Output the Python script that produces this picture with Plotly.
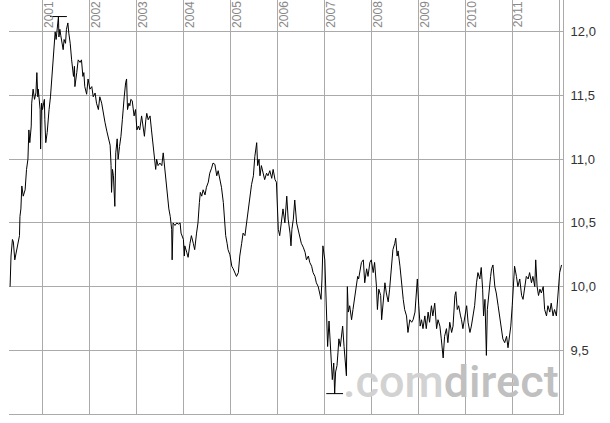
import numpy as np
import plotly.graph_objects as go

# price history (decimal year, closing value)
years = [
    2000.31, 2000.33, 2000.36, 2000.38, 2000.41, 2000.45, 2000.49, 2000.51, 2000.52, 2000.54,
    2000.56, 2000.59, 2000.63, 2000.64, 2000.66, 2000.69, 2000.70, 2000.71, 2000.73, 2000.76,
    2000.77, 2000.80, 2000.83, 2000.86, 2000.88, 2000.90, 2000.91, 2000.93, 2000.95, 2000.96,
    2000.98, 2001.00, 2001.04, 2001.05, 2001.07, 2001.10, 2001.12, 2001.14, 2001.17, 2001.20,
    2001.23, 2001.25, 2001.27, 2001.29, 2001.31, 2001.34, 2001.35, 2001.37, 2001.39, 2001.42,
    2001.44, 2001.46, 2001.49, 2001.51, 2001.54, 2001.56, 2001.59, 2001.62, 2001.66, 2001.68,
    2001.69, 2001.73, 2001.76, 2001.80, 2001.83, 2001.86, 2001.88, 2001.90, 2001.94, 2001.97,
    2002.01, 2002.05, 2002.08, 2002.12,
    2002.15, 2002.19, 2002.22, 2002.26, 2002.29, 2002.33, 2002.37, 2002.40, 2002.44, 2002.46,
    2002.47, 2002.49, 2002.51, 2002.54, 2002.56, 2002.59, 2002.61, 2002.64, 2002.67, 2002.70,
    2002.72, 2002.74, 2002.77, 2002.79, 2002.81, 2002.84, 2002.86, 2002.88, 2002.91, 2002.93,
    2002.95, 2002.98, 2003.01, 2003.04, 2003.07, 2003.11, 2003.14, 2003.17, 2003.20, 2003.22,
    2003.25, 2003.29, 2003.32, 2003.36, 2003.38, 2003.41, 2003.43, 2003.46, 2003.50, 2003.54,
    2003.57, 2003.59, 2003.62, 2003.64, 2003.66, 2003.69, 2003.72, 2003.75, 2003.76, 2003.78,
    2003.82, 2003.86, 2003.89, 2003.93, 2003.95, 2003.97, 2004.00, 2004.02,
    2004.03, 2004.07, 2004.10, 2004.14, 2004.17, 2004.21, 2004.24, 2004.28, 2004.31, 2004.34,
    2004.36, 2004.39, 2004.42, 2004.46, 2004.49, 2004.53, 2004.56, 2004.60, 2004.63, 2004.67,
    2004.71, 2004.74, 2004.78, 2004.81, 2004.85, 2004.87, 2004.90, 2004.93, 2004.95, 2004.99,
    2005.03, 2005.06, 2005.10, 2005.13, 2005.17, 2005.20, 2005.24, 2005.27, 2005.31, 2005.34,
    2005.38, 2005.41, 2005.45, 2005.49, 2005.52, 2005.56, 2005.58, 2005.61, 2005.63, 2005.66,
    2005.70, 2005.73, 2005.77, 2005.80, 2005.84, 2005.88, 2005.91, 2005.95, 2005.98, 2006.00,
    2006.02, 2006.05, 2006.09, 2006.12, 2006.16, 2006.20, 2006.23, 2006.27, 2006.29, 2006.31,
    2006.34, 2006.37, 2006.41, 2006.44, 2006.48, 2006.51, 2006.55, 2006.59, 2006.62, 2006.66,
    2006.69, 2006.73, 2006.76, 2006.80, 2006.83, 2006.87, 2006.90, 2006.93, 2006.95, 2006.97,
    2007.01, 2007.03, 2007.05, 2007.07, 2007.10, 2007.12, 2007.15, 2007.17, 2007.20, 2007.22,
    2007.24, 2007.27, 2007.29, 2007.31, 2007.34, 2007.37, 2007.39, 2007.42, 2007.45, 2007.47,
    2007.49, 2007.51, 2007.54, 2007.58, 2007.61, 2007.65, 2007.69, 2007.71, 2007.73, 2007.76,
    2007.79, 2007.83, 2007.86,
    2007.90, 2007.93, 2007.97, 2008.00, 2008.04, 2008.07, 2008.11, 2008.13, 2008.16, 2008.20,
    2008.22, 2008.25, 2008.29, 2008.32, 2008.36, 2008.39, 2008.43, 2008.46, 2008.50, 2008.52,
    2008.55, 2008.57, 2008.61, 2008.64, 2008.68, 2008.71, 2008.75, 2008.78, 2008.82, 2008.86,
    2008.89, 2008.93, 2008.96, 2008.98, 2009.01, 2009.04, 2009.07, 2009.10, 2009.14, 2009.17,
    2009.21, 2009.24, 2009.28, 2009.31, 2009.35, 2009.39, 2009.42, 2009.46, 2009.49, 2009.53,
    2009.56, 2009.60, 2009.63, 2009.67, 2009.71, 2009.74, 2009.78, 2009.80, 2009.83, 2009.86,
    2009.90,
    2009.92, 2009.95, 2009.99, 2010.03, 2010.06, 2010.10, 2010.13, 2010.17, 2010.20, 2010.24,
    2010.27, 2010.31, 2010.34, 2010.37, 2010.39, 2010.42, 2010.45, 2010.47, 2010.51, 2010.54,
    2010.56, 2010.59, 2010.63, 2010.66, 2010.70, 2010.73, 2010.77, 2010.80, 2010.84, 2010.88,
    2010.91, 2010.95, 2010.97, 2011.00, 2011.02, 2011.05, 2011.09, 2011.12, 2011.16, 2011.20,
    2011.23, 2011.27, 2011.30, 2011.34, 2011.37, 2011.41, 2011.44, 2011.48, 2011.50, 2011.53,
    2011.56, 2011.59, 2011.62, 2011.66, 2011.69, 2011.73, 2011.76, 2011.80, 2011.83, 2011.87,
    2011.90, 2011.94, 2011.96, 2011.99, 2012.01, 2012.05,
]
prices = [
    10.00, 10.24, 10.37, 10.35, 10.21, 10.29, 10.35, 10.40, 10.55, 10.61,
    10.79, 10.71, 10.76, 10.82, 10.92, 11.00, 11.18, 11.23, 11.13, 11.26,
    11.44, 11.55, 11.47, 11.52, 11.68, 11.49, 11.55, 11.47, 11.39, 11.08,
    11.44, 11.39, 11.47, 11.31, 11.13, 11.21, 11.34, 11.39, 11.49, 11.63,
    11.78, 11.91, 12.00, 11.94, 12.00, 12.12, 11.96, 12.02, 11.97, 11.91,
    11.86, 11.94, 11.91, 12.02, 12.07, 11.99, 11.91, 11.78, 11.65, 11.73,
    11.57, 11.68, 11.78, 11.76, 11.78, 11.65, 11.68, 11.57, 11.51, 11.63,
    11.55, 11.57, 11.49, 11.52,
    11.44, 11.39, 11.49, 11.44, 11.36, 11.29, 11.22, 11.16, 11.11, 10.95,
    10.74, 10.92, 10.87, 10.63, 11.05, 11.16, 11.00, 11.10, 11.18, 11.31,
    11.42, 11.49, 11.60, 11.63, 11.39, 11.44, 11.42, 11.47, 11.46, 11.39,
    11.34, 11.39, 11.23, 11.26, 11.23, 11.34, 11.26, 11.18, 11.31, 11.36,
    11.31, 11.34, 11.23, 11.10, 11.00, 10.92, 11.00, 10.95, 10.97, 10.95,
    11.05, 10.97, 10.89, 10.79, 10.68, 10.61, 10.55, 10.45, 10.21, 10.50,
    10.48, 10.50, 10.49, 10.50, 10.42, 10.40, 10.37, 10.24,
    10.32, 10.27, 10.23, 10.34, 10.40, 10.34, 10.29, 10.42, 10.50, 10.66,
    10.74, 10.71, 10.76, 10.72, 10.78, 10.82, 10.89, 10.93, 10.97, 10.96,
    10.87, 10.91, 10.84, 10.78, 10.66, 10.53, 10.40, 10.34, 10.29, 10.25,
    10.16, 10.14, 10.11, 10.08, 10.11, 10.24, 10.34, 10.42, 10.40, 10.48,
    10.61, 10.71, 10.80, 10.87, 11.02, 11.13, 10.95, 11.00, 10.87, 10.95,
    10.89, 10.84, 10.89, 10.87, 10.91, 10.85, 10.92, 10.84, 10.82, 10.61,
    10.45, 10.40, 10.53, 10.61, 10.50, 10.71, 10.53, 10.42, 10.32, 10.45,
    10.53, 10.68, 10.50, 10.45, 10.40, 10.34, 10.31, 10.27, 10.21, 10.24,
    10.19, 10.16, 10.11, 10.08, 10.03, 10.00, 9.95, 9.90, 10.06, 10.32,
    10.21, 10.00, 9.80, 9.53, 9.73, 9.59, 9.38, 9.27, 9.40, 9.16,
    9.33, 9.38, 9.48, 9.59, 9.53, 9.61, 9.69, 9.53, 9.33, 9.30,
    10.00, 9.80, 9.85, 9.74, 9.82, 9.93, 10.00, 10.08, 10.06, 10.14,
    10.19, 10.21, 10.03,
    10.14, 10.08, 10.19, 10.21, 10.11, 10.19, 10.00, 9.82, 9.98, 9.93,
    9.74, 9.90, 10.03, 9.95, 9.88, 9.98, 10.16, 10.29, 10.34, 10.38,
    10.24, 10.28, 10.16, 10.03, 9.90, 9.82, 9.77, 9.64, 9.74, 9.72,
    9.74, 9.80, 9.93, 10.06, 9.85, 9.69, 9.74, 9.67, 9.77, 9.67,
    9.80, 9.72, 9.85, 9.77, 9.87, 9.67, 9.74, 9.69, 9.59, 9.44,
    9.61, 9.67, 9.56, 9.72, 9.64, 9.69, 9.93, 9.96, 9.82, 9.85,
    9.77,
    9.74, 9.67, 9.77, 9.85, 9.72, 9.64, 9.69, 9.77, 9.85, 10.03,
    10.11, 10.06, 10.15, 9.98, 9.77, 9.90, 9.46, 9.82, 10.00, 10.08,
    10.14, 10.17, 10.00, 9.95, 9.85, 9.77, 9.65, 9.59, 9.56, 9.61,
    9.52, 9.61, 9.69, 9.85, 10.00, 10.16, 10.08, 10.00, 10.06, 9.93,
    9.90, 10.00, 10.08, 10.06, 10.11, 10.03, 10.08, 10.00, 10.21, 10.00,
    9.93, 9.98, 9.95, 10.00, 9.82, 9.77, 9.85, 9.80, 9.87, 9.77,
    9.82, 9.77, 9.85, 10.00, 10.11, 10.17,
]

year_lines = list(range(2001, 2013))      # vertical grid, 2012 has no label
year_labels = [str(y) for y in range(2001, 2012)]
value_ticks = [9.5, 10.0, 10.5, 11.0, 11.5, 12.0]

GRID = "#aaaaaa"
FONT = "Arial, Liberation Sans, sans-serif"

fig = go.Figure()

fig.add_trace(go.Scatter(
    x=years, y=prices,
    mode="lines",
    line=dict(color="black", width=1),
    hoverinfo="skip",
    showlegend=False,
))

# high / low bars
i_hi = int(np.argmax(prices))
i_lo = int(np.argmin(prices))
fig.add_trace(go.Scatter(
    x=[years[i_hi], years[i_lo]],
    y=[prices[i_hi], prices[i_lo]],
    mode="markers",
    marker=dict(symbol="line-ew", size=12, line=dict(color="black", width=1)),
    hoverinfo="skip",
    showlegend=False,
))

annotations = []
for lab in year_labels:
    annotations.append(dict(
        x=int(lab), xref="x", y=1, yref="paper",
        text=lab, textangle=-90, showarrow=False,
        xanchor="center", yanchor="top", xshift=6, yshift=1,
        font=dict(family=FONT, size=12, color="#888888"),
    ))

# watermark
annotations.append(dict(
    x=0.989, xref="paper", y=0, yref="paper",
    xanchor="right", yanchor="bottom", xshift=4, yshift=4,
    text='<span style="color:#d2d2d2">.com</span><span style="color:#c0c0c0">direct</span>',
    showarrow=False,
    font=dict(family="Roboto, Arial, sans-serif", size=45, weight=500),
))

fig.update_layout(
    width=610, height=423,
    margin=dict(l=9, r=47, t=0, b=9),
    paper_bgcolor="white",
    plot_bgcolor="white",
    separators=",.",
    showlegend=False,
    annotations=annotations,
    xaxis=dict(
        range=[2000.287, 2012.081],
        tickmode="array", tickvals=year_lines,
        showticklabels=False, ticks="",
        showgrid=True, gridcolor=GRID, gridwidth=1,
        showline=True, linecolor=GRID, linewidth=1,
        zeroline=False,
    ),
    yaxis=dict(
        side="right",
        range=[9.0, 12.25],
        tickmode="array", tickvals=value_ticks, tickformat=".1f",
        ticks="outside", ticklen=4, tickcolor="rgba(0,0,0,0)",
        tickfont=dict(family=FONT, size=13, color="#333333"),
        showgrid=True, gridcolor=GRID, gridwidth=1,
        showline=True, linecolor=GRID, linewidth=1,
        zeroline=False,
    ),
)

# drop the browser's default page margin so the chart sits at 0,0
fig.write_html("out.html", config={"displayModeBar": False},
               post_script="document.body.style.margin='0';")
